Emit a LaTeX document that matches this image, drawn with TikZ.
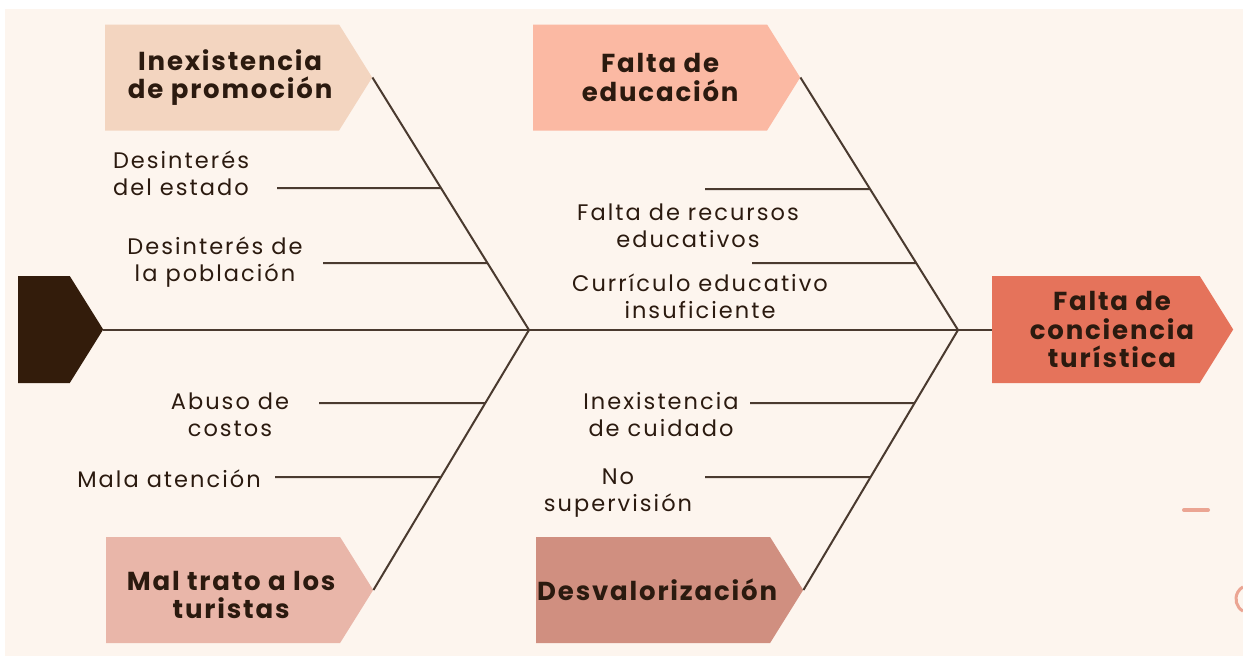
\documentclass[tikz,border=0pt]{standalone}
\usepackage{fontspec}
\setmainfont{Poppins}
\newfontfamily\titlefont{Poppins}[LetterSpace=7]
\newfontfamily\itemfont{Poppins}[LetterSpace=9]
\usetikzlibrary{shapes.symbols}
\definecolor{cream}{HTML}{FDF5EE}
\definecolor{ink}{HTML}{2B1A0F}
\definecolor{bonecol}{HTML}{4A3A2F}
\definecolor{headcol}{HTML}{331C0B}
\definecolor{effcol}{HTML}{E5735B}
\definecolor{promocol}{HTML}{F3D5C0}
\definecolor{educol}{HTML}{FBB9A3}
\definecolor{tratocol}{HTML}{E9B6A9}
\definecolor{desvcol}{HTML}{D08F80}
\definecolor{decocol}{HTML}{EBA593}
\tikzset{
  cause/.style={shape=signal, signal to=east, signal pointer angle=116,
    minimum width=267pt, minimum height=106pt, inner sep=0pt, anchor=west},
  title/.style={align=center, text=ink, font=\fontsize{26}{28.5}\selectfont\titlefont\bfseries},
  item/.style={align=center, text=ink, font=\fontsize{22.5}{27}\selectfont\itemfont},
  bone/.style={draw=bonecol, line width=2pt},
}
\begin{document}
\begin{tikzpicture}[x=1pt,y=-1pt]
\useasboundingbox (0,0) rectangle (1243,656);
\fill[white] (0,0) rectangle (1243,656);
\fill[cream] (5,9) rectangle (1243,656);
% head and effect
\node[cause, fill=headcol, minimum width=85pt, minimum height=107pt] (head) at (18,329.5) {};
\node[cause, fill=effcol, minimum width=241pt, minimum height=107pt,
  label={[title, xshift=16pt]center:{Falta de\\conciencia\\turística}}] (effect) at (992,329.5) {};
% causes
\node[cause, fill=promocol, label={[title, xshift=8pt]center:{Inexistencia\\de promoción}}] (promo) at (105,77.5) {};
\node[cause, fill=educol, label={[title, xshift=10pt]center:{Falta de\\educación}}] (edu) at (533,77.5) {};
\node[cause, fill=tratocol, label={[title, xshift=8pt, yshift=-5pt]center:{Mal trato a los\\turistas}}] (trato) at (106,590) {};
\node[cause, fill=desvcol, label={[title, xshift=4pt]center:{Desvalorización}}] (desv) at (536,590) {};
% spine and bones
\coordinate (jL) at (529,330);
\coordinate (jR) at (958,330);
\draw[bone] (head.east) -- (effect.west);
\draw[bone] (promo.east) -- (jL);
\draw[bone] (trato.east) -- (jL);
\draw[bone] (edu.east) -- (jR);
\draw[bone] (desv.east) -- (jR);
% sub causes
\node[item] (estado) at (181,173) {Desinterés\\del estado};
\node[item] (poblacion) at (215,262) {Desinterés de\\la población};
\node[item] (recursos) at (688,226) {Falta de recursos\\educativos};
\node[item] (curriculo) at (700,296) {Currículo educativo\\insuficiente};
\node[item] (costos) at (230,415) {Abuso de\\costos};
\node[item] (atencion) at (169,479) {Mala atención};
\node[item] (cuidado) at (661,415) {Inexistencia\\de cuidado};
\node[item] (supervision) at (618,493) {No\\supervisión};
\coordinate (s1) at (277,188);
\coordinate (s2) at (323,263);
\coordinate (s3) at (319,403);
\coordinate (s4) at (275,477);
\coordinate (s5) at (705,189);
\coordinate (s6) at (752,263);
\coordinate (s7) at (750,403);
\coordinate (s8) at (705,477);
\draw[bone] (s1) -- (intersection of s1--{[xshift=1pt]s1} and promo.east--jL);
\draw[bone] (s2) -- (intersection of s2--{[xshift=1pt]s2} and promo.east--jL);
\draw[bone] (s3) -- (intersection of s3--{[xshift=1pt]s3} and trato.east--jL);
\draw[bone] (s4) -- (intersection of s4--{[xshift=1pt]s4} and trato.east--jL);
\draw[bone] (s5) -- (intersection of s5--{[xshift=1pt]s5} and edu.east--jR);
\draw[bone] (s6) -- (intersection of s6--{[xshift=1pt]s6} and edu.east--jR);
\draw[bone] (s7) -- (intersection of s7--{[xshift=1pt]s7} and desv.east--jR);
\draw[bone] (s8) -- (intersection of s8--{[xshift=1pt]s8} and desv.east--jR);
% marks on the right
\draw[decocol, line width=4pt, line cap=round] (1184,510) -- (1208,510);
\draw[decocol, line width=3pt] (1250,599) ++(120:14) arc[start angle=120, end angle=240, radius=14];
\end{tikzpicture}
\end{document}
